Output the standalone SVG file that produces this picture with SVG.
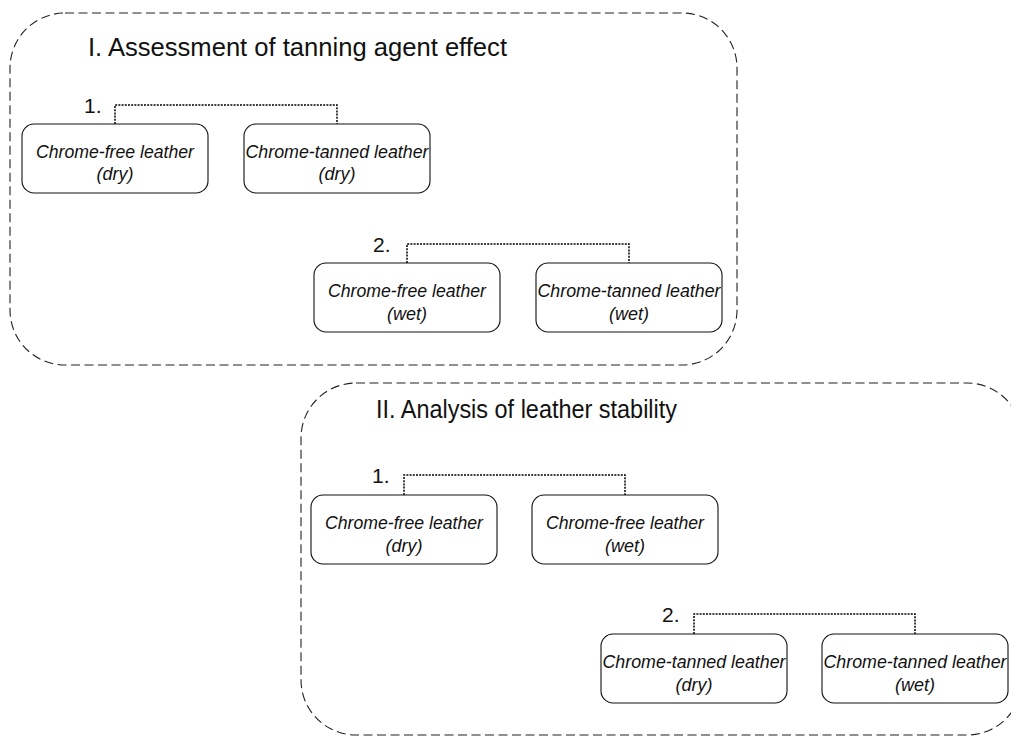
<svg xmlns="http://www.w3.org/2000/svg" width="1011" height="736" viewBox="0 0 1011 736">
<style>
.grp{fill:none;stroke:#222;stroke-width:1.1;stroke-dasharray:9 4.5}
.box{fill:#fff;stroke:#111;stroke-width:1.1}
.con{fill:none;stroke:#000;stroke-width:1.5;stroke-dasharray:2 1.2}
.t{font-family:"Liberation Sans",Arial,sans-serif;fill:#111}
.title{font-size:25px}
.num{font-size:21px}
.lbl{font-size:18px;font-style:italic;text-anchor:middle}
</style>
<rect width="1011" height="736" fill="#fff"/>
<g id="groupI">
<rect class="grp" x="10" y="13" width="727" height="352" rx="55" ry="55"/>
<text class="t title" x="88" y="56" textLength="419" lengthAdjust="spacingAndGlyphs">I. Assessment of tanning agent effect</text>
<text class="t num" x="84" y="113">1.</text>
<text class="t num" x="373" y="252">2.</text>
</g>
<g id="groupII">
<rect class="grp" x="301" y="383" width="721" height="352" rx="55" ry="55"/>
<text class="t title" x="376" y="418" textLength="301" lengthAdjust="spacingAndGlyphs">II. Analysis of leather stability</text>
<text class="t num" x="372" y="483">1.</text>
<text class="t num" x="662" y="622">2.</text>
</g>
<g id="connectors">
<path class="con" d="M115,124 V105 H337 V124"/>
<path class="con" d="M407,263 V244 H629 V263"/>
<path class="con" d="M404,495 V475 H625 V495"/>
<path class="con" d="M694,634 V614 H915 V634"/>
</g>
<g id="n1">
<rect class="box" x="22" y="124" width="186" height="69" rx="12"/>
<text class="t lbl" x="115" y="158" textLength="158" lengthAdjust="spacingAndGlyphs">Chrome-free leather</text>
<text class="t lbl" x="115" y="180">(dry)</text>
</g>
<g id="n2">
<rect class="box" x="244" y="124" width="186" height="69" rx="12"/>
<text class="t lbl" x="337" y="158" textLength="183" lengthAdjust="spacingAndGlyphs">Chrome-tanned leather</text>
<text class="t lbl" x="337" y="180">(dry)</text>
</g>
<g id="n3">
<rect class="box" x="314" y="263" width="186" height="69" rx="12"/>
<text class="t lbl" x="407" y="297" textLength="158" lengthAdjust="spacingAndGlyphs">Chrome-free leather</text>
<text class="t lbl" x="407" y="320">(wet)</text>
</g>
<g id="n4">
<rect class="box" x="536" y="263" width="186" height="69" rx="12"/>
<text class="t lbl" x="629" y="297" textLength="183" lengthAdjust="spacingAndGlyphs">Chrome-tanned leather</text>
<text class="t lbl" x="629" y="320">(wet)</text>
</g>
<g id="n5">
<rect class="box" x="311" y="495" width="186" height="69" rx="12"/>
<text class="t lbl" x="404" y="529" textLength="158" lengthAdjust="spacingAndGlyphs">Chrome-free leather</text>
<text class="t lbl" x="404" y="552">(dry)</text>
</g>
<g id="n6">
<rect class="box" x="532" y="495" width="186" height="69" rx="12"/>
<text class="t lbl" x="625" y="529" textLength="158" lengthAdjust="spacingAndGlyphs">Chrome-free leather</text>
<text class="t lbl" x="625" y="552">(wet)</text>
</g>
<g id="n7">
<rect class="box" x="601" y="634" width="186" height="69" rx="12"/>
<text class="t lbl" x="694" y="668" textLength="183" lengthAdjust="spacingAndGlyphs">Chrome-tanned leather</text>
<text class="t lbl" x="694" y="691">(dry)</text>
</g>
<g id="n8">
<rect class="box" x="822" y="634" width="186" height="69" rx="12"/>
<text class="t lbl" x="915" y="668" textLength="183" lengthAdjust="spacingAndGlyphs">Chrome-tanned leather</text>
<text class="t lbl" x="915" y="691">(wet)</text>
</g>
</svg>
